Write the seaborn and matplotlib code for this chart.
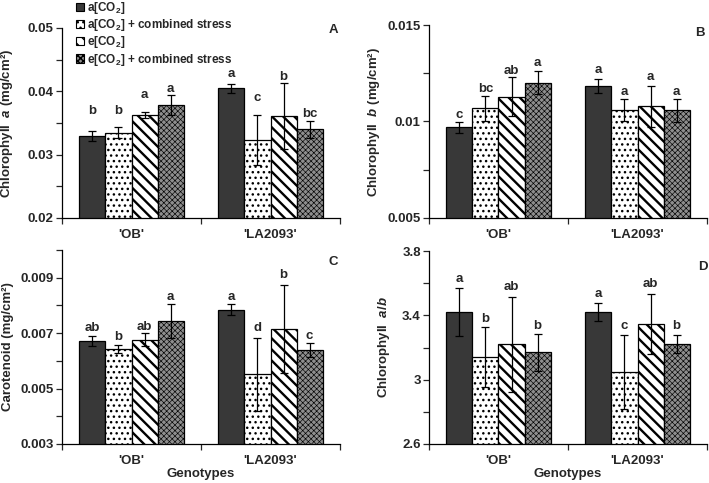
import matplotlib
matplotlib.use("Agg")
import matplotlib.pyplot as plt
import seaborn as sns
import pandas as pd
from matplotlib.patches import Patch
from matplotlib.ticker import MultipleLocator, FixedLocator, FuncFormatter

# ---------------- data ----------------
genotypes = ["'OB'", "'LA2093'"]
treatments = ["a[CO$_2$]", "a[CO$_2$] + combined stress",
              "e[CO$_2$]", "e[CO$_2$] + combined stress"]

# order: OB (4 treatments), then LA2093 (4 treatments)
chla_mean = [0.0330, 0.0335, 0.0363, 0.0379, 0.0405, 0.0323, 0.0361, 0.0340]
chla_err = [0.0008, 0.0009, 0.0005, 0.0016, 0.0007, 0.0040, 0.0052, 0.0013]
chla_letters = ["b", "b", "a", "a", "a", "c", "b", "bc"]
chla_letter_y = [0.0364, 0.0364, 0.0390, 0.0399, 0.0422, 0.0384, 0.0418, 0.0359]
chla_ticks = [0.02, 0.03, 0.04, 0.05]

chlb_mean = [0.00971, 0.01069, 0.01129, 0.01202, 0.01184, 0.01059, 0.01078, 0.01057]
chlb_err = [0.00028, 0.00065, 0.00100, 0.00062, 0.00038, 0.00055, 0.00105, 0.00062]
chlb_letters = ["c", "bc", "ab", "a", "a", "a", "a", "a"]
chlb_letter_y = [0.01017, 0.01155, 0.01247, 0.01290, 0.01253, 0.01138, 0.01216, 0.01138]
chlb_ticks = [0.005, 0.010, 0.015]

car_mean = [0.00673, 0.00644, 0.00677, 0.00744, 0.00785, 0.00551, 0.00715, 0.00640]
car_err = [0.00018, 0.00014, 0.00025, 0.00062, 0.00020, 0.00133, 0.00160, 0.00026]
car_letters = ["ab", "b", "ab", "a", "a", "d", "b", "c"]
car_letter_y = [0.00708, 0.00677, 0.00710, 0.00818, 0.00818, 0.00708, 0.00900, 0.00680]
car_ticks = [0.003, 0.005, 0.007, 0.009]

ab_mean = [3.423, 3.142, 3.219, 3.169, 3.421, 3.045, 3.347, 3.221]
ab_err = [0.150, 0.186, 0.295, 0.116, 0.058, 0.230, 0.188, 0.058]
ab_letters = ["a", "b", "ab", "b", "a", "c", "ab", "b"]
ab_letter_y = [3.608, 3.359, 3.556, 3.318, 3.514, 3.318, 3.577, 3.312]
ab_ticks = [2.6, 3.0, 3.4, 3.8]

# ---------------- style ----------------
sns.set_theme(style="ticks")
plt.rcParams["font.family"] = ["Liberation Sans", "DejaVu Sans"]
plt.rcParams["font.weight"] = "bold"
plt.rcParams["axes.labelweight"] = "bold"
plt.rcParams["mathtext.fontset"] = "custom"
plt.rcParams["mathtext.rm"] = "Liberation Sans:bold"
plt.rcParams["mathtext.bf"] = "Liberation Sans:bold"
plt.rcParams["mathtext.it"] = "Liberation Sans:italic:bold"
plt.rcParams["mathtext.default"] = "rm"
plt.rcParams["hatch.linewidth"] = 1.0

face_colors = ["#383838", "white", "white", "#8e8e8e"]
hatches = [None, "...", "\\\\\\", "xxxxxx"]
hatch_lw = [1.0, 1.0, 1.7, 0.45]

fig = plt.figure(figsize=(7.09, 4.83), dpi=100)
W, H = 709, 483


def add_axes(left, top, right, bottom):
    return fig.add_axes([left / W, 1 - bottom / H, (right - left) / W, (bottom - top) / H])


def fmt(v, _):
    return f"{round(v, 6):g}"


def style_patch(p, k):
    p.set_facecolor(face_colors[k])
    p.set_edgecolor("black")
    if hatches[k]:
        p.set_hatch(hatches[k])
        if hasattr(p, "set_hatch_linewidth"):
            p.set_hatch_linewidth(hatch_lw[k])


def panel(ax, means, errs, letters, letter_y, ylim, ticks, ylabel, tag, tagpos,
          label_x, xlabel=None):
    df = pd.DataFrame({
        "genotype": [g for g in genotypes for _ in treatments],
        "treatment": [t for _ in genotypes for t in treatments],
        "value": means,
    })
    sns.barplot(data=df, x="genotype", y="value", hue="treatment",
                hue_order=treatments, order=genotypes, errorbar=None,
                width=0.75, palette=face_colors, saturation=1, legend=False,
                edgecolor="black", linewidth=0.9, ax=ax)
    bar_containers = list(ax.containers)
    for k, cont in enumerate(bar_containers):
        xs, ys, es = [], [], []
        for j, bar in enumerate(cont.patches):
            style_patch(bar, k)
            idx = j * len(treatments) + k
            xs.append(bar.get_x() + bar.get_width() / 2)
            ys.append(means[idx])
            es.append(errs[idx])
            ax.text(xs[-1], letter_y[idx], letters[idx], ha="center",
                    va="baseline", fontsize=9.5, fontweight="bold", zorder=5)
        ax.errorbar(xs, ys, yerr=es, fmt="none", ecolor="black",
                    elinewidth=0.9, capsize=2.6, capthick=0.9, zorder=4)
    ax.set_xlim(-0.5, 1.5)
    ax.set_ylim(*ylim)
    step = ticks[1] - ticks[0]
    ax.yaxis.set_major_locator(FixedLocator(ticks))
    ax.yaxis.set_minor_locator(MultipleLocator(step / 2))
    ax.yaxis.set_major_formatter(FuncFormatter(fmt))
    ax.xaxis.set_minor_locator(FixedLocator([-0.5, 0.5, 1.5]))
    ax.tick_params(axis="x", which="major", length=0, pad=8, labelsize=9.5)
    ax.tick_params(axis="x", which="minor", length=4, width=0.9, direction="out")
    ax.tick_params(axis="y", which="both", length=4, width=0.9,
                   direction="out", labelsize=9.5, pad=2)
    for lab in ax.get_xticklabels() + ax.get_yticklabels():
        lab.set_fontweight("bold")
    for s in ["top", "right"]:
        ax.spines[s].set_visible(False)
    for s in ["left", "bottom"]:
        ax.spines[s].set_color("black")
        ax.spines[s].set_linewidth(0.9)
    ax.set_ylabel(ylabel, fontsize=9.5, fontweight="bold")
    ax.yaxis.set_label_coords(label_x, 0.5)
    if xlabel:
        ax.set_xlabel(xlabel, fontsize=9.5, fontweight="bold", labelpad=1)
    else:
        ax.set_xlabel("")
    ax.text(tagpos[0], tagpos[1], tag, transform=ax.transAxes, ha="center",
            va="center", fontsize=9.5, fontweight="bold")


axA = add_axes(62, 28, 340, 218)
axB = add_axes(429, 25, 707, 218)
axC = add_axes(62, 250, 340, 444)
axD = add_axes(429, 251, 707, 444)

panel(axA, chla_mean, chla_err, chla_letters, chla_letter_y, (0.02, 0.05), chla_ticks,
      "Chlorophyll  $\\mathit{a}$ (mg/cm²)", "A", (0.975, 0.99), -0.168)
panel(axB, chlb_mean, chlb_err, chlb_letters, chlb_letter_y, (0.005, 0.015), chlb_ticks,
      "Chlorophyll  $\\mathit{b}$ (mg/cm²)", "B", (0.975, 0.96), -0.169)
panel(axC, car_mean, car_err, car_letters, car_letter_y, (0.003, 0.010), car_ticks,
      "Carotenoid (mg/cm²)", "C", (0.975, 0.94), -0.173, xlabel="Genotypes")
panel(axD, ab_mean, ab_err, ab_letters, ab_letter_y, (2.6, 3.8), ab_ticks,
      "Chlorophyll  $\\mathit{a}$/$\\mathit{b}$", "D", (0.985, 0.917), -0.133,
      xlabel="Genotypes")

handles = []
for k, t in enumerate(treatments):
    h = Patch(linewidth=0.8, label=t)
    style_patch(h, k)
    handles.append(h)
fig.legend(handles=handles, loc="upper left", bbox_to_anchor=(76 / W, 1.0),
           frameon=False, handlelength=0.7, handleheight=0.7,
           handletextpad=0.25, labelspacing=0.1, borderpad=0.0,
           borderaxespad=0.0, prop={"weight": "bold", "size": 8.5})

fig.savefig("out.png", dpi=100)
